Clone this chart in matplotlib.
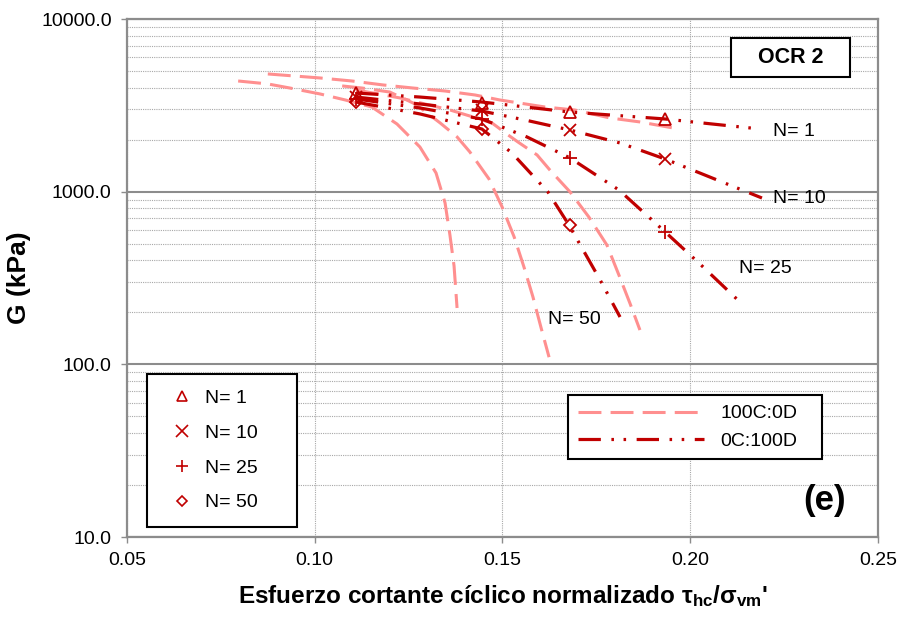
import numpy as np
import matplotlib
matplotlib.use('Agg')
import matplotlib.pyplot as plt
from matplotlib.lines import Line2D
from matplotlib.patches import Rectangle
from matplotlib.ticker import FixedLocator, FuncFormatter, LogLocator, NullFormatter

plt.rcParams['font.family'] = ['Liberation Sans', 'DejaVu Sans']
plt.rcParams['mathtext.fontset'] = 'custom'
plt.rcParams['mathtext.rm'] = 'Liberation Sans'
plt.rcParams['mathtext.it'] = 'Liberation Sans:italic'
plt.rcParams['mathtext.bf'] = 'Liberation Sans:bold'

# ---------------- data ----------------
# 100C:0D curves (light)
c100_a_x = [0.0875, 0.1014, 0.1099, 0.1182, 0.1262, 0.1347, 0.1427, 0.1493, 0.1613, 0.1693, 0.1786, 0.1866, 0.1954]
c100_a_g = [4805, 4555, 4375, 4150, 3983, 3828, 3630, 3396, 3093, 2970, 2672, 2534, 2339]
c100_b_x = [0.0796, 0.0875, 0.0934, 0.1014, 0.1081, 0.1152, 0.1219, 0.1280, 0.1323, 0.1347, 0.1360, 0.1371, 0.1379]
c100_b_g = [4375, 4207, 3983, 3681, 3398, 3093, 2466, 1815, 1283, 861, 561, 371, 212]
c100_c_x = [0.1073, 0.1126, 0.1200, 0.1267, 0.1334, 0.1379, 0.1413, 0.1464, 0.1499, 0.1531, 0.1557, 0.1581, 0.1603, 0.1624]
c100_c_g = [4095, 3983, 3775, 3222, 2500, 2075, 1699, 1185, 815, 547, 367, 246, 162, 110]
c100_d_x = [0.1110, 0.1227, 0.1360, 0.1413, 0.1472, 0.1515, 0.1541, 0.1592, 0.1626, 0.1680, 0.1730, 0.1778, 0.1810, 0.1840, 0.1866]
c100_d_g = [3882, 3490, 2972, 2743, 2500, 2130, 1940, 1632, 1336, 996, 713, 491, 329, 224, 158]

# 0C:100D curves (dark)
c0_n1_x = [0.1110, 0.1280, 0.1445, 0.1680, 0.1933, 0.2058, 0.2186]
c0_n1_g = [3728, 3532, 3305, 2891, 2636, 2466, 2307]
c0_n10_x = [0.1110, 0.1280, 0.1445, 0.1560, 0.1680, 0.1813, 0.1933, 0.2071, 0.2191]
c0_n10_g = [3532, 3221, 2931, 2600, 2274, 1914, 1546, 1170, 919]
c0_n25_x = [0.1110, 0.1280, 0.1445, 0.1565, 0.1680, 0.1810, 0.1933, 0.2026, 0.2132]
c0_n25_g = [3443, 3053, 2636, 2075, 1567, 1023, 585, 381, 230]
c0_n50_x = [0.1110, 0.1280, 0.1445, 0.1525, 0.1621, 0.1677, 0.1760, 0.1813]
c0_n50_g = [3305, 2820, 2307, 1676, 996, 641, 308, 188]

# measured points
pt_n1_x = [0.111, 0.1445, 0.168, 0.1933]
pt_n1_g = [3728, 3264, 2893, 2636]
pt_n10_x = [0.111, 0.1445, 0.168, 0.1933]
pt_n10_g = [3532, 2990, 2274, 1546]
pt_n25_x = [0.111, 0.1445, 0.168, 0.1933]
pt_n25_g = [3443, 2637, 1567, 585]
pt_n50_x = [0.111, 0.1445, 0.168]
pt_n50_g = [3305, 2307, 641]

n_labels = ['N= 1', 'N= 10', 'N= 25', 'N= 50']
n_label_x = [0.2220, 0.2220, 0.2130, 0.1621]
n_label_g = [2219, 919, 357, 183]

x_ticks = [0.05, 0.10, 0.15, 0.20, 0.25]
y_ticks = [10, 100, 1000, 10000]

# ---------------- style ----------------
LIGHT = '#FF8F8F'
DARK = '#C00000'
GRAY = '#8C8C8C'
light_ls = (0, (7.5, 3))
dark_ls = (0, (7, 3.3, 0.8, 3, 0.8, 3.3))

fig = plt.figure(figsize=(9.03, 6.2), dpi=100)
ax = fig.add_axes([127/903, 1-537/620, 751/903, 518/620])
ax.set_yscale('log')
ax.set_xlim(0.05, 0.25)
ax.set_ylim(10, 10000)

# grid
ax.yaxis.set_minor_locator(LogLocator(base=10, subs=np.arange(2, 10)))
ax.yaxis.set_minor_formatter(NullFormatter())
ax.grid(which='minor', axis='y', color='#A8A8A8', linestyle=(0, (1, 1)), linewidth=0.8)
ax.grid(which='major', axis='y', color=GRAY, linestyle='-', linewidth=1.5)
ax.grid(which='major', axis='x', color='#A8A8A8', linestyle=(0, (1, 1)), linewidth=0.8)
ax.set_axisbelow(True)

for s in ax.spines.values():
    s.set_color(GRAY)
    s.set_linewidth(1.6)

ax.xaxis.set_major_locator(FixedLocator(x_ticks))
ax.xaxis.set_major_formatter(FuncFormatter(lambda v, p: f'{v:.2f}'))
ax.yaxis.set_major_locator(FixedLocator(y_ticks))
ax.yaxis.set_major_formatter(FuncFormatter(lambda v, p: f'{v:.1f}'))
ax.tick_params(axis='both', which='major', direction='out', length=4, width=1, color=GRAY,
               labelsize=14, pad=7)
ax.tick_params(axis='y', which='minor', length=0)

# light curves
for xs, gs in [(c100_a_x, c100_a_g), (c100_b_x, c100_b_g), (c100_c_x, c100_c_g), (c100_d_x, c100_d_g)]:
    ax.plot(xs, gs, color=LIGHT, lw=2.2, linestyle=light_ls, solid_capstyle='butt', dash_capstyle='butt')

# dark curves
for xs, gs in [(c0_n1_x, c0_n1_g), (c0_n10_x, c0_n10_g), (c0_n25_x, c0_n25_g), (c0_n50_x, c0_n50_g)]:
    ax.plot(xs, gs, color=DARK, lw=2.3, linestyle=dark_ls, dash_capstyle='butt')

mk = dict(color=DARK, linestyle='none', mfc='none', mec=DARK)
ax.plot(pt_n1_x, pt_n1_g, marker='^', ms=8, mew=1.3, **mk)
ax.plot(pt_n10_x, pt_n10_g, marker='x', ms=9, mew=1.3, **mk)
ax.plot(pt_n25_x, pt_n25_g, marker='+', ms=10, mew=1.3, **mk)
ax.plot(pt_n50_x, pt_n50_g, marker='D', ms=6.5, mew=1.3, **mk)

for t, xv, gv in zip(n_labels, n_label_x, n_label_g):
    ax.text(xv, gv, t, fontsize=14, ha='left', va='center', color='black')

# OCR box
ax.add_patch(Rectangle((0.804, 0.888), 0.1585, 0.0753, transform=ax.transAxes,
                       facecolor='white', edgecolor='black', lw=1.5, zorder=5))
ax.text(0.8835, 0.9257, 'OCR 2', transform=ax.transAxes, ha='center', va='center',
        fontsize=15.5, fontweight='bold', zorder=6)
ax.text(0.9294, 0.0714, '(e)', transform=ax.transAxes, ha='center', va='center',
        fontsize=25, fontweight='bold')

ax.set_ylabel('G (kPa)', fontsize=19, fontweight='bold', labelpad=7)
ax.set_xlabel("Esfuerzo cortante cíclico normalizado τ$_{\\mathbf{hc}}$/σ$_{\\mathbf{vm}}$'",
              fontsize=17.5, fontweight='bold', labelpad=10)

# legends
h1 = [Line2D([], [], marker='^', ms=7, mew=1.2, **mk),
      Line2D([], [], marker='x', ms=8, mew=1.2, **mk),
      Line2D([], [], marker='+', ms=9, mew=1.2, **mk),
      Line2D([], [], marker='D', ms=5.5, mew=1.2, **mk)]
leg1 = ax.legend(h1, n_labels, loc='upper left',
                 bbox_to_anchor=(0.0266, 0.3047, 0.1997, 0.01), mode='expand',
                 borderaxespad=0, fontsize=14, frameon=True, fancybox=False,
                 edgecolor='black', framealpha=1, borderpad=0.8, labelspacing=0.88,
                 handlelength=2.0, handletextpad=0.18, numpoints=1)
leg1.get_frame().set_linewidth(1.5)
ax.add_artist(leg1)

h2 = [Line2D([], [], color=LIGHT, lw=2.2, linestyle=light_ls),
      Line2D([], [], color=DARK, lw=2.3, linestyle=dark_ls)]
leg2 = ax.legend(h2, ['100C:0D', '0C:100D'], loc='upper left',
                 bbox_to_anchor=(0.5872, 0.2641, 0.3382, 0.01), mode='expand',
                 borderaxespad=0, fontsize=14, frameon=True, fancybox=False,
                 edgecolor='black', framealpha=1, borderpad=0.5, labelspacing=0.5,
                 handlelength=6.5, handletextpad=0.85)
leg2.get_frame().set_linewidth(1.5)

fig.savefig('out.png', dpi=100)
